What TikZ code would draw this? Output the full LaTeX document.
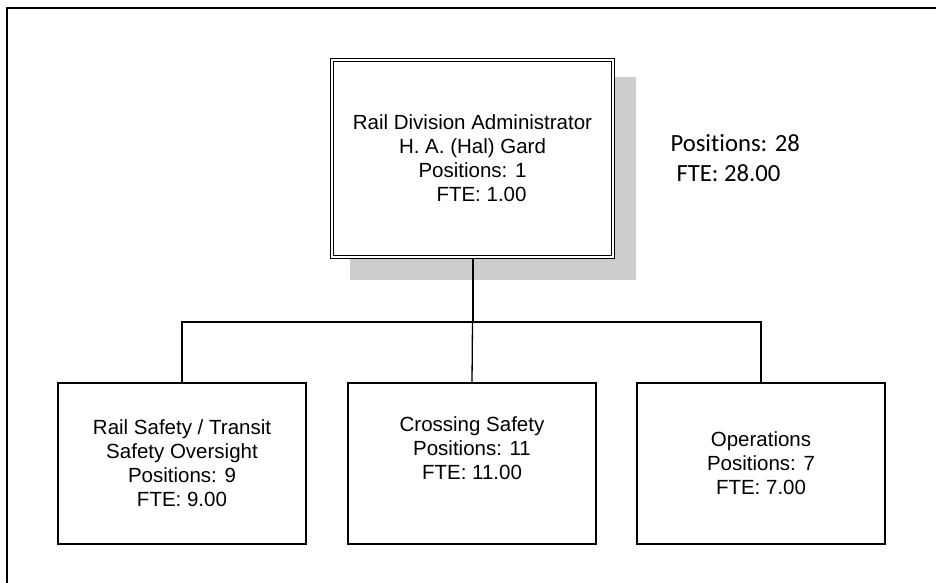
\documentclass[tikz,border=0pt]{standalone}
\usepackage{fontspec}
\setmainfont{Liberation Sans}
\newfontfamily\calibri[Ligatures=NoCommon]{Carlito}
\begin{document}
\begin{tikzpicture}[x=1pt, y=-1pt,
    unit/.style={draw, line width=1.3pt, minimum width=248pt, minimum height=161pt,
      align=center, inner sep=0pt, font=\fontsize{20.5}{24}\selectfont},
    chief/.style={unit, double, double distance=1.8pt, line width=1.2pt,
      minimum width=281pt, minimum height=197pt},
    link/.style={line width=1.3pt}]
  \useasboundingbox (0,0) rectangle (936,582);
  \clip (0,0) rectangle (936,582);
  % page frame
  \draw[line width=1.6pt] (7,600) -- (7,8) -- (950,8);
  % shadow of the top box
  \fill[black!20] (350,77) rectangle (636,280);
  \node[chief, fill=white] (admin) at (472.5,158.5)
    {Rail Division Administrator\\H. A. (Hal) Gard\\Positions: 1\\\hspace*{18pt}FTE: 1.00};
  \node[font=\calibri\fontsize{24.7}{30}\selectfont, align=left, anchor=west] (total) at (667,158)
    {Positions: 28\\\hspace*{6pt}FTE: 28.00};
  \node[unit] (rail) at (182,463.5)
    {Rail Safety / Transit\\Safety Oversight\\Positions: 9\\FTE: 9.00};
  \node[unit] (cross) at (472,463.5)
    {Crossing Safety\\Positions: 11\\FTE: 11.00\\\strut};
  \node[unit] (ops) at (761,463.5)
    {Operations\\Positions: 7\\FTE: 7.00};
  \coordinate (bus) at (472.5,322);
  \draw[link, line width=2pt] (admin.south) -- (bus);
  \draw[link] (rail.north) |- (bus) -| (ops.north);
  \draw[link] (bus) -- (cross.north);
\end{tikzpicture}
\end{document}
